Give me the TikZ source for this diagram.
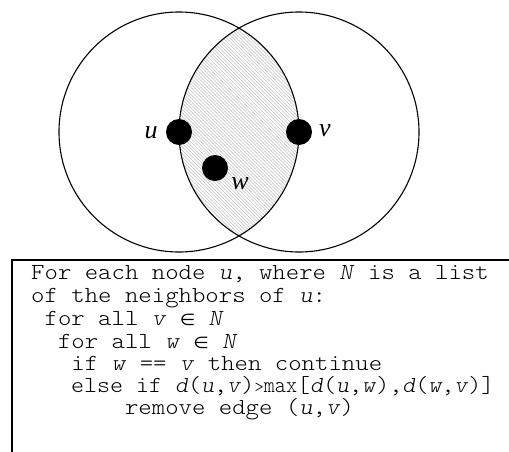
\documentclass[tikz,border=0pt]{standalone}
\usepackage{fontspec}
\setmainfont{Liberation Serif}
\setmonofont{Latin Modern Mono Light}
\newfontfamily\symfont{DejaVu Sans}
\newcommand{\mi}[1]{\textit{#1}}
\newcommand{\elem}{{\symfont\fontsize{16}{16}\selectfont ∈}}
\newcommand{\gtmax}{{\fontsize{17}{17}\selectfont >}\scalebox{0.85}[1]{max}}
\begin{document}
\begin{tikzpicture}[x=1pt,y=-1pt,
  ring/.style={draw=black,line width=1.1pt},
  dot/.style={circle,fill=black,minimum size=26pt,inner sep=0pt},
  lab/.style={font=\fontsize{26}{26}\selectfont\itshape,inner sep=0pt},
  hatch/.style={draw=gray!50,line width=0.55pt},
  code/.style={font=\ttfamily\fontsize{23}{23}\selectfont,inner sep=0pt,anchor=base west,xscale=1.11}]
\useasboundingbox (0,0) rectangle (509,451);
\coordinate (cu) at (179,132);
\coordinate (cv) at (299,132);
\begin{scope}
  \clip (cu) circle[radius=120pt];
  \clip (cv) circle[radius=120pt];
  \foreach \c in {-70,-66.6,...,290}
    \draw[hatch] (\c,0) -- (\c+260,260);
\end{scope}
\draw[ring] (cu) circle[radius=120pt];
\draw[ring] (cv) circle[radius=120pt];
\node[dot] (u) at (cu) {};
\node[dot] (v) at (cv) {};
\node[dot] (w) at (215,168) {};
\node[lab] (lu) at (151,133) {u};
\node[lab] (lv) at (325,131) {v};
\node[lab] (lw) at (240,184) {w};
\draw[line width=1.1pt] (12,470) -- (12,260) -- (520,260);
\node[code] (l1) at (31,279) {For each node \mi{u}, where \mi{N} is a list};
\node[code] (l2) at (31,302) {of the neighbors of \mi{u}:};
\node[code] (l3) at (31,325) {\ for all \mi{v} \elem{} \mi{N}};
\node[code] (l4) at (31,348) {\ \ for all \mi{w} \elem{} \mi{N}};
\node[code] (l5) at (31,370) {\ \ \ if \mi{w} == \mi{v} then continue};
\node[code,xscale=0.97] (l6) at (71,392) {else if \mi{d}(\mi{u},\mi{v})\gtmax[\mi{d}(\mi{u},\mi{w}),\mi{d}(\mi{w},\mi{v})]};
\node[code] (l7) at (31,414) {\ \ \ \ \ \ \ remove edge (\mi{u},\mi{v})};
\end{tikzpicture}
\end{document}
